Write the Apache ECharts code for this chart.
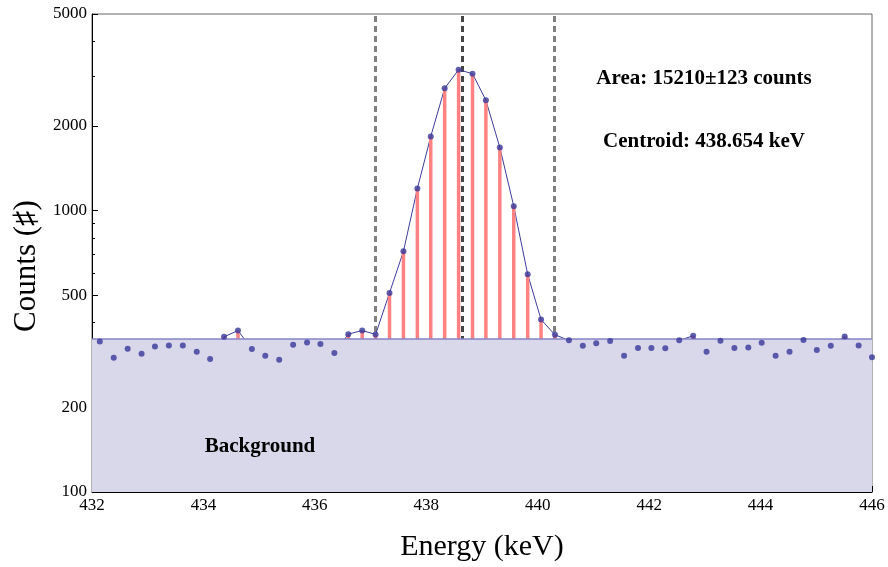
<!DOCTYPE html>
<html><head><meta charset="utf-8">
<script src="https://cdn.jsdelivr.net/npm/echarts@6/dist/echarts.min.js"></script>
<style>html,body{margin:0;padding:0;background:#fff}#c{width:888px;height:567px}</style>
</head><body><div id="c"></div>
<script>
const energies = [432.14,432.39,432.64,432.89,433.13,433.38,433.63,433.88,434.12,434.37,
  434.62,434.87,435.11,435.36,435.61,435.86,436.10,436.35,436.60,436.85,
  437.09,437.34,437.59,437.84,438.08,438.33,438.58,438.83,439.07,439.32,
  439.57,439.82,440.06,440.31,440.56,440.81,441.05,441.30,441.55,441.80,
  442.04,442.29,442.54,442.79,443.03,443.28,443.53,443.78,444.02,444.27,
  444.52,444.77,445.01,445.26,445.51,445.76,446.00];
const counts = [343,300,323,310,329,332,332,315,297,356,
  375,322,305,295,334,340,336,312,364,375,
  363,510,717,1198,1835,2721,3169,3067,2468,1678,
  1037,594,410,362,346,331,338,344,305,325,
  325,324,346,359,315,345,325,326,339,305,
  315,347,320,331,357,332,301];
const backgroundLevel = 350;
const backgroundRange = [432, 446];
const markerEnergies = [437.08, 438.654, 440.30];
const yTickValues = [100, 200, 500, 1000, 2000, 5000];
const yMinorTickValues = [300, 400, 600, 700, 800, 900, 3000, 4000];
const areaText = 'Area: 15210\u00b1123 counts';
const centroidText = 'Centroid: 438.654 keV';
const backgroundText = 'Background';

const serif = '"Liberation Serif", "DejaVu Serif", serif';
const chart = echarts.init(document.getElementById('c'));
const pts = energies.map((e, i) => [e, counts[i]]);

chart.setOption({
  animation: false,
  grid: {left: 92, right: 16, top: 14, bottom: 73, show: true, borderColor: '#666', borderWidth: 1, backgroundColor: 'transparent'},
  xAxis: {
    type: 'value', min: 432, max: 446, interval: 2,
    axisLine: {lineStyle: {color: '#000', width: 1}},
    axisTick: {inside: true, length: 6, lineStyle: {color: '#000'}},
    minorTick: {show: true, splitNumber: 4, length: 3, lineStyle: {color: '#000'}},
    splitLine: {show: false},
    axisLabel: {color: '#000', fontFamily: serif, fontSize: 17, margin: 5},
    name: 'Energy (keV)', nameLocation: 'middle', nameGap: 40,
    nameTextStyle: {color: '#000', fontFamily: serif, fontSize: 30}
  },
  yAxis: [{
    type: 'log', logBase: 10, min: 100, max: 5000,
    axisLine: {show: true, lineStyle: {color: '#000', width: 1}},
    axisTick: {show: true, inside: true, length: 6, customValues: yTickValues, lineStyle: {color: '#000'}},
    axisLabel: {customValues: yTickValues, formatter: v => String(Math.round(v)), color: '#000', fontFamily: serif, fontSize: 17, margin: 5},
    splitLine: {show: false}, minorTick: {show: false},
    name: 'Counts (\u266f)', nameLocation: 'middle', nameGap: 50, nameRotate: 90,
    nameTextStyle: {color: '#000', fontFamily: serif, fontSize: 31, padding: [0, 26, 0, 0]}
  }, {
    type: 'log', logBase: 10, min: 100, max: 5000, position: 'left',
    axisLine: {show: false},
    axisTick: {show: true, inside: true, length: 3, customValues: yMinorTickValues, lineStyle: {color: '#000'}},
    axisLabel: {show: false}, splitLine: {show: false}
  }],
  series: [
    {
      type: 'line', data: [], z: 1, silent: true,
      markLine: {
        z: 1, symbol: 'none', silent: true, label: {show: false},
        data: markerEnergies.map((x, i) => ({xAxis: x, lineStyle: {color: i === 1 ? '#444' : '#808080', width: 3, type: [6, 4]}}))
      }
    },
    {
      type: 'line', data: pts, showSymbol: false, z: 2,
      lineStyle: {color: '#3c3c9c', width: 1}
    },
    {
      type: 'custom', z: 3, data: pts,
      renderItem: function (params, api) {
        const x = api.value(0), v = api.value(1);
        if (v <= backgroundLevel) return null;
        const top = api.coord([x, v]);
        const base = api.coord([x, backgroundLevel]);
        return {type: 'rect', shape: {x: top[0] - 1.75, y: top[1], width: 3.5, height: base[1] - top[1]},
          style: {fill: '#ff8282'}};
      }
    },
    {
      type: 'line', z: 4, showSymbol: false,
      data: backgroundRange.map(x => [x, backgroundLevel]),
      lineStyle: {color: '#8585c6', width: 1.5},
      areaStyle: {color: '#d9d8eb', opacity: 1, origin: 'start'}
    },
    {
      type: 'scatter', z: 5, data: pts, symbolSize: 6,
      itemStyle: {color: '#37379a'}
    }
  ],
  graphic: [
    {type: 'text', z: 10, style: {x: 704, y: 79, text: areaText, fill: '#000', font: 'bold 21px ' + serif, textAlign: 'center', textVerticalAlign: 'middle'}},
    {type: 'text', z: 10, style: {x: 704, y: 142, text: centroidText, fill: '#000', font: 'bold 21px ' + serif, textAlign: 'center', textVerticalAlign: 'middle'}},
    {type: 'text', z: 10, style: {x: 260, y: 447, text: backgroundText, fill: '#000', font: 'bold 21px ' + serif, textAlign: 'center', textVerticalAlign: 'middle'}}
  ]
});
</script></body></html>
